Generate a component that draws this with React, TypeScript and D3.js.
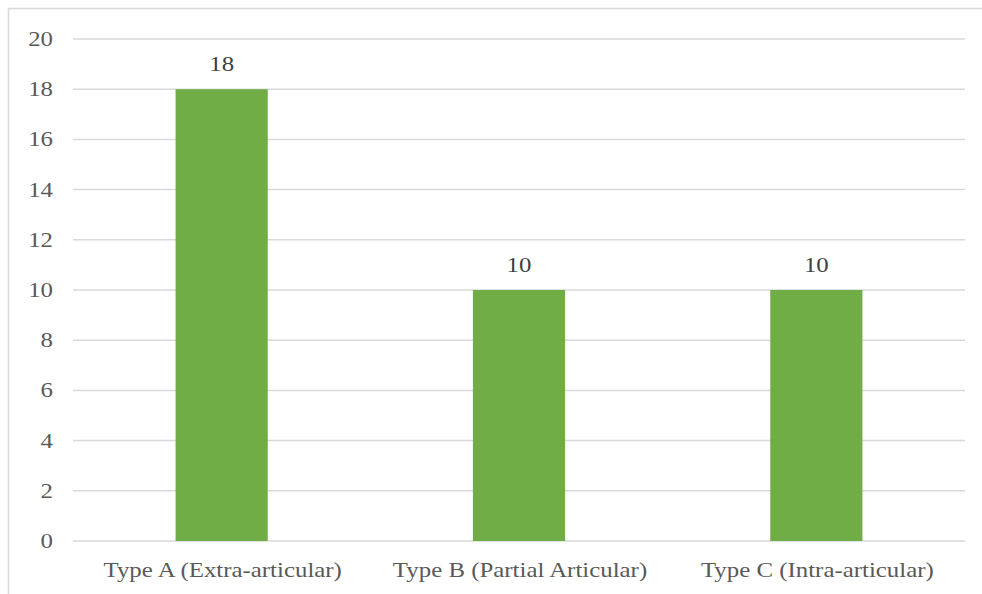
import * as d3 from 'd3';
import { useEffect, useRef } from 'react';

const categories = [
  'Type A (Extra-articular)',
  'Type B (Partial Articular)',
  'Type C (Intra-articular)',
];
const counts = [18, 10, 10];
const yTicks = [0, 2, 4, 6, 8, 10, 12, 14, 16, 18, 20];

const width = 982;
const height = 594;
const margin = { top: 39, right: 17, bottom: 53, left: 73 };
const barColor = '#70AD47';
const textColor = '#595959';
const gridColor = '#D9D9D9';
const font = '"Liberation Serif", "Times New Roman", serif';
const fontSize = 22;
// the source image text looks slightly stretched horizontally
const stretch = 1.13;

export default function App() {
  const ref = useRef<SVGSVGElement | null>(null);

  useEffect(() => {
    if (!ref.current) return;
    const svg = d3.select(ref.current);
    svg.selectAll('*').remove();

    svg.append('rect').attr('width', width).attr('height', height).attr('fill', 'white');

    // outer chart border, only top and left visible in the crop
    svg
      .append('rect')
      .attr('x', 8.5)
      .attr('y', 8.5)
      .attr('width', 1200)
      .attr('height', 1200)
      .attr('fill', 'none')
      .attr('stroke', gridColor)
      .attr('stroke-width', 1.5);

    const x = d3
      .scaleBand<string>()
      .domain(categories)
      .range([margin.left, width - margin.right])
      .paddingInner(0.69)
      .paddingOuter(0.345);

    const y = d3
      .scaleLinear()
      .domain([0, 20])
      .range([height - margin.bottom, margin.top]);

    // gridlines
    svg
      .append('g')
      .selectAll('line')
      .data(yTicks)
      .join('line')
      .attr('x1', margin.left)
      .attr('x2', width - margin.right)
      .attr('y1', (d) => y(d))
      .attr('y2', (d) => y(d))
      .attr('stroke', gridColor)
      .attr('stroke-width', 1.5);

    const styleText = (sel: d3.Selection<any, any, any, any>) =>
      sel
        .attr('font-family', font)
        .attr('font-size', fontSize)
        .attr('fill', textColor);

    // y tick labels
    svg
      .append('g')
      .selectAll('text')
      .data(yTicks)
      .join('text')
      .attr('transform', (d) => `translate(53,${y(d)}) scale(${stretch},1)`)
      .attr('dy', '0.32em')
      .attr('text-anchor', 'end')
      .call(styleText)
      .text((d) => d);

    // bars
    svg
      .append('g')
      .selectAll('rect')
      .data(counts)
      .join('rect')
      .attr('x', (_, i) => x(categories[i])!)
      .attr('y', (d) => y(d))
      .attr('width', x.bandwidth())
      .attr('height', (d) => y(0) - y(d))
      .attr('fill', barColor);

    // value labels
    svg
      .append('g')
      .selectAll('text')
      .data(counts)
      .join('text')
      .attr(
        'transform',
        (d, i) =>
          `translate(${x(categories[i])! + x.bandwidth() / 2},${y(d) - 18.5}) scale(${stretch},1)`,
      )
      .attr('text-anchor', 'middle')
      .call(styleText)
      .attr('fill', '#404040')
      .text((d) => d);

    // category labels
    svg
      .append('g')
      .selectAll('text')
      .data(categories)
      .join('text')
      .attr(
        'transform',
        (d) => `translate(${x(d)! + x.bandwidth() / 2 + 1},577) scale(${stretch},1)`,
      )
      .attr('text-anchor', 'middle')
      .call(styleText)
      .text((d) => d);
  }, []);

  return (
    <div style={{ position: 'fixed', left: 0, top: 0 }}>
      <svg ref={ref} width={width} height={height} style={{ display: 'block' }} />
    </div>
  );
}
